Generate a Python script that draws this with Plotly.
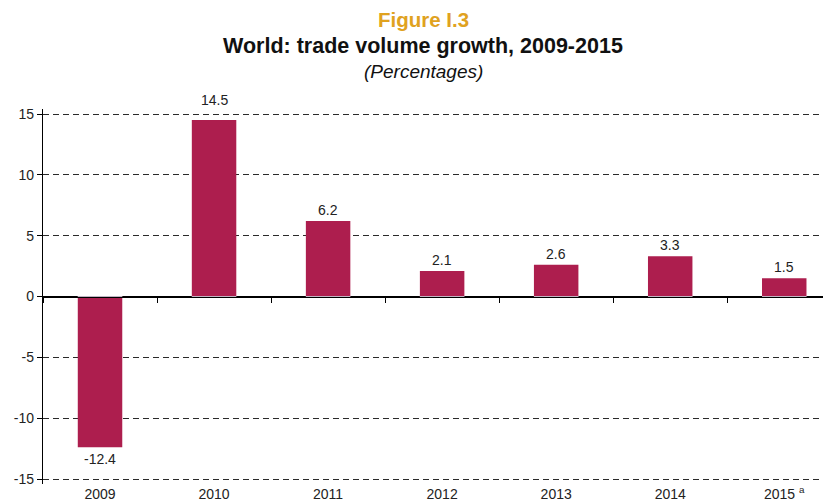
import plotly.graph_objects as go

years = ["2009", "2010", "2011", "2012", "2013", "2014", "2015 <sup>a</sup>"]
growth = [-12.4, 14.5, 6.2, 2.1, 2.6, 3.3, 1.5]
y_ticks = [-15, -10, -5, 0, 5, 10, 15]
y_tick_text = ["-15", "-10", "-5", "0", "5", "10", "15"]

BAR = "#AD1E4E"
FONT = "Liberation Sans, Arial, sans-serif"

# the page body has an 8px default margin: figure is sized/offset to compensate
W, H = 823, 493
L, T, B, R = 35, 101, 17, 0
YR = 15.411

fig = go.Figure()
fig.add_trace(go.Bar(
    x=years, y=growth, marker=dict(color=BAR, line=dict(width=0)),
    width=0.39, showlegend=False, hoverinfo="x+y",
))
# helper trace for the axis drawn on the zero line (ticks at category boundaries)
fig.add_trace(go.Bar(x=years, y=[0] * len(years), xaxis="x2", yaxis="y",
                     marker=dict(color="rgba(0,0,0,0)"), showlegend=False,
                     hoverinfo="skip"))

# value labels (x given as category index, since numeric-looking strings would be parsed as numbers)
for i, v in enumerate(growth):
    if v >= 0:
        shift = 10 if v > 14 else 1
        fig.add_annotation(x=i, y=v, text=f"{v:.1f}", showarrow=False,
                           yanchor="bottom", yshift=shift,
                           font=dict(family=FONT, size=14, color="#222222"))
    else:
        fig.add_annotation(x=i, y=v, text=f"{v:.1f}", showarrow=False,
                           yanchor="top", yshift=-2,
                           font=dict(family=FONT, size=14, color="#222222"))

fig.update_layout(
    width=W, height=H,
    margin=dict(l=L, r=R, t=T, b=B, pad=0),
    paper_bgcolor="white", plot_bgcolor="white",
    font=dict(family=FONT, size=14, color="#222222"),
    xaxis=dict(type="category", range=[-0.5, 6.41], showline=False, ticks="",
               showgrid=False, zeroline=False, tickfont=dict(size=14, color="#222222")),
    xaxis2=dict(type="category", overlaying="x", anchor="free", position=0.5,
                range=[-0.5, 6.41], showline=True, linecolor="black", linewidth=1.3,
                ticks="outside", tickson="boundaries", ticklen=5, tickcolor="black",
                tickwidth=1.2, showticklabels=False, showgrid=False, zeroline=False,
                side="bottom"),
    yaxis=dict(range=[-YR, YR], tickvals=y_ticks, ticktext=y_tick_text,
               ticks="outside", ticklen=5,
               tickcolor="black", showline=True, linecolor="black", linewidth=1.3,
               showgrid=True, gridcolor="#2a2a2a", gridwidth=1, griddash="6px,4px",
               zeroline=True, zerolinecolor="black", zerolinewidth=1.3,
               tickfont=dict(size=14, color="#222222")),
    bargap=0.61,
)

plot_h = H - T - B
plot_w = W - L - R
def ay(py):
    return (H - B - py) / plot_h
cx = (415 - L) / plot_w

fig.add_annotation(text="<b>Figure I.3</b>", x=cx, y=ay(12), xref="paper", yref="paper",
                   showarrow=False, xanchor="center", yanchor="middle",
                   font=dict(family=FONT, size=20.5, color="#E0A21F"))
fig.add_annotation(text="<b>World: trade volume growth, 2009-2015</b>", x=cx, y=ay(38),
                   xref="paper", yref="paper", showarrow=False, xanchor="center",
                   yanchor="middle", font=dict(family=FONT, size=21.5, color="#111111"))
fig.add_annotation(text="<i>(Percentages)</i>", x=cx, y=ay(64), xref="paper", yref="paper",
                   showarrow=False, xanchor="center", yanchor="middle",
                   font=dict(family=FONT, size=19, color="#111111"))

fig.write_html("out.html")
